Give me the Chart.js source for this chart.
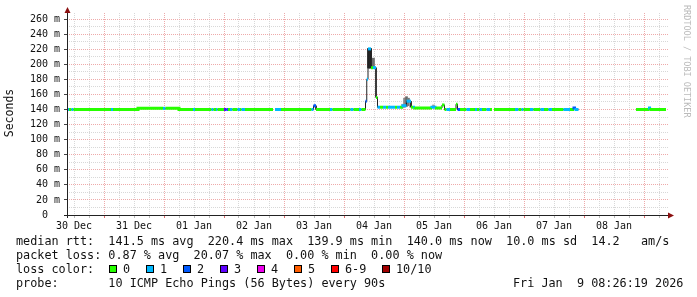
<!DOCTYPE html>
<html>
<head>
<meta charset="utf-8">
<script src="https://cdn.jsdelivr.net/npm/chart.js@4.4.1/dist/chart.umd.min.js"></script>
<style>
html, body { margin: 0; padding: 0; background: #fff; }
canvas { display: block; }
</style>
</head>
<body>
<canvas id="myChart" width="697" height="297"></canvas>
<script>
// hours after 30 Dec 00:00 -- each run keeps its median / loss until the next run starts
const runStart = [9.2, 10.0, 11.0, 11.8, 26.8, 27.6, 37.6, 47.6, 48.6, 54.0,
  59.6, 60.4, 67.0, 67.8, 68.8, 69.4, 72.0, 73.0, 73.6, 74.4,
  75.4, 77.4, 78.4, 79.0, 80.4, 91.6, 92.4, 94.8, 107.0, 107.8,
  108.8, 114.4, 115.4, 122.6, 123.8, 126.0, 127.0, 128.6, 129.1, 129.6,
  130.8, 131.6, 132.8, 133.4, 134.4, 135.6, 136.8, 137.6, 140.4, 141.2,
  142.4, 143.6, 145.0, 146.8, 147.6, 148.4, 155.2, 157.0, 159.2, 160.2,
  161.0, 162.4, 164.8, 165.4, 166.4, 169.0, 170.4, 172.4, 173.2, 174.2,
  175.2, 177.0, 178.4, 179.2, 180.0, 188.4, 189.8, 191.0, 191.8, 194.4,
  195.8, 198.6, 200.0, 201.8, 203.2, 207.8, 210.4, 212.0, 212.8, 213.8,
  236.8, 242.2, 242.8];
const runMedian = [140, 140, 140, 140, 140, 140, 141.5, 141.5, 141.5, 140,
  140, 140, 140, 140, 140, 140, 140, 140, 140, 140,
  140, 140, 140, 140, 140, null, 140, 140, 140, 145,
  140, 140, 140, 140, 140, 140, 140, 151, 180, 220.4,
  195.5, 195.5, 156, 143, 143, 143, 143, 143, 143, 143,
  143, 145, 151, 143, 143, 142, 143, 142, 146, 140,
  140, 140, 147, 140, 140, 140, 140, 140, 140, 140,
  140, 140, 140, null, 140, 140, 140, 140, 140, 140,
  140, 140, 140, 140, 140, 140, 140, 142, 140, null,
  140, 142, 140];
const runLoss = [1, 0, 1, 0, 1, 0, 0, 1, 0, 0,
  1, 0, 1, 0, 1, 0, 3, 2, 0, 1,
  0, 1, 0, 1, 0, 0, 1, 0, 1, 2,
  0, 1, 0, 1, 0, 1, 0, 2, 1, 1,
  0, 1, 0, 1, 0, 1, 0, 1, 0, 1,
  0, 1, 1, 0, 1, 0, 1, 0, 0, 0,
  1, 0, 0, 2, 0, 1, 0, 1, 0, 1,
  0, 1, 0, 0, 0, 1, 0, 1, 0, 1,
  0, 1, 0, 1, 0, 1, 0, 2, 1, 0,
  0, 1, 0];
const dataEnd = 248.8;

// smoke (spread of the 10 pings)
const smokeHours = [129.8, 130.2, 130.6, 131.4, 131.8, 143.4, 144.2, 145.0, 145.8, 146.6, 155.8];
const smokeLow = [195, 195, 195, 197, 197, 142, 143, 144, 145, 143, 142];
const smokeHigh = [221, 221, 221, 208, 208, 147, 155, 157, 155, 149, 146];
const smokeShade = ['#262626', '#262626', '#262626', '#6e6e6e', '#6e6e6e', '#b0b0b0', '#8a8a8a', '#6a6a6a', '#7a7a7a', '#a0a0a0', '#9a9a9a'];

const dayLabels = ['30 Dec', '31 Dec', '01 Jan', '02 Jan', '03 Jan', '04 Jan', '05 Jan', '06 Jan', '07 Jan', '08 Jan'];
const yTickValues = [0, 10, 20, 30, 40, 50, 60, 70, 80, 90, 100, 110, 120, 130, 140, 150, 160, 170, 180, 190, 200, 210, 220, 230, 240, 250, 260];

const lossLabels = ['0', '1', '2', '3', '4', '5', '6-9', '10/10'];
const lossColors = ['#26ff00', '#00b8ff', '#0059ff', '#5e00ff', '#ee00ee', '#ff5e00', '#ff0000', '#a10000'];

const statLines = [
    'median rtt:  141.5 ms avg  220.4 ms max  139.9 ms min  140.0 ms now  10.0 ms sd  14.2   am/s',
    'packet loss: 0.87 % avg  20.07 % max  0.00 % min  0.00 % now'
];
const probeText = 'probe:       10 ICMP Echo Pings (56 Bytes) every 90s';
const stampText = 'Fri Jan  9 08:26:19 2026';

const MONO = '"DejaVu Sans Mono", monospace';
const RED_GRID = '#eeaaaa';
const GREY_GRID = '#d8d8d8';

function colorFor(n) {
    if (n >= 10) return lossColors[7];
    if (n >= 6) return lossColors[6];
    return lossColors[n];
}

// step points: every run gets a start and end point
const pts = [];
const ptLoss = [];
runStart.forEach((t, i) => {
    const end = i + 1 < runStart.length ? runStart[i + 1] : dataEnd;
    pts.push({x: t, y: runMedian[i]}, {x: end, y: runMedian[i]});
    ptLoss.push(runLoss[i], runLoss[i]);
});

const xTicks = [];
for (let h = 12; h <= 246; h += 6) xTicks.push(h);

const smokeData = smokeHours.map((h, i) => ({x: h, y: [smokeLow[i], smokeHigh[i]]}));

const extras = {
    id: 'extras',
    afterDraw(chart) {
        const c = chart.ctx;
        const a = chart.chartArea;
        c.save();
        // axes
        c.strokeStyle = '#222';
        c.lineWidth = 1;
        c.beginPath();
        c.moveTo(a.left + 0.5, a.top);
        c.lineTo(a.left + 0.5, a.bottom + 3);
        c.moveTo(a.left - 3, a.bottom + 0.5);
        c.lineTo(a.right, a.bottom + 0.5);
        c.stroke();
        c.fillStyle = '#8b1010';
        c.beginPath();
        c.moveTo(a.left + 0.5, a.top - 6);
        c.lineTo(a.left - 2.5, a.top);
        c.lineTo(a.left + 3.5, a.top);
        c.closePath();
        c.fill();
        c.beginPath();
        c.moveTo(a.right + 6, a.bottom + 0.5);
        c.lineTo(a.right, a.bottom - 2.5);
        c.lineTo(a.right, a.bottom + 3.5);
        c.closePath();
        c.fill();

        // y title
        c.fillStyle = '#111';
        c.font = '11.5px ' + MONO;
        c.textAlign = 'center';
        c.textBaseline = 'middle';
        c.translate(10, 113);
        c.rotate(-Math.PI / 2);
        c.fillText('Seconds', 0, 0);
        c.restore();

        // watermark
        c.save();
        c.fillStyle = '#bbb';
        c.font = '8.5px ' + MONO;
        c.textAlign = 'left';
        c.textBaseline = 'middle';
        c.translate(686, 5);
        c.rotate(Math.PI / 2);
        c.fillText('RRDTOOL / TOBI OETIKER', 0, 0);
        c.restore();

        // legend block
        c.save();
        c.fillStyle = '#111';
        c.font = '11.8px ' + MONO;
        c.textAlign = 'left';
        c.textBaseline = 'middle';
        c.fillText(statLines[0], 16, 241.5);
        c.fillText(statLines[1], 16, 255.5);
        c.fillText('loss color:', 16, 269.5);
        const boxX = [109, 146, 183, 220, 257, 294, 331, 382];
        lossLabels.forEach((lab, i) => {
            c.fillStyle = lossColors[i];
            c.fillRect(boxX[i], 265, 8, 8);
            c.strokeStyle = '#000';
            c.strokeRect(boxX[i] + 0.5, 265.5, 7, 7);
            c.fillStyle = '#111';
            c.fillText(lab, boxX[i] + 14, 269.5);
        });
        c.fillText(probeText, 16, 283.5);
        c.fillText(stampText, 513, 283.5);
        c.restore();
    }
};

const ctx = document.getElementById('myChart').getContext('2d');
const chart = new Chart(ctx, {
    data: {
        datasets: [{
            type: 'line',
            data: pts,
            borderWidth: 3,
            pointRadius: 0,
            spanGaps: false,
            segment: {
                borderColor: s => {
                    if (s.p0.parsed.x === s.p1.parsed.x) {
                        return Math.abs(s.p1.parsed.y - s.p0.parsed.y) > 3 ? 'transparent' : colorFor(ptLoss[s.p1DataIndex]);
                    }
                    return colorFor(ptLoss[s.p0DataIndex]);
                }
            }
        }, {
            type: 'line',
            data: pts,
            borderWidth: 1,
            borderColor: '#202020',
            pointRadius: 0,
            spanGaps: false
        }, {
            type: 'bar',
            data: smokeData,
            backgroundColor: smokeShade,
            barThickness: 2,
            grouped: false
        }]
    },
    options: {
        responsive: false,
        animation: false,
        events: [],
        layout: {padding: {left: 0, right: 29, top: 13, bottom: 0}},
        plugins: {legend: {display: false}, tooltip: {enabled: false}},
        scales: {
            x: {
                type: 'linear',
                min: 9.2,
                max: 249.6,
                offset: false,
                afterFit: s => { s.height = 82; },
                afterBuildTicks: s => { s.ticks = xTicks.map(v => ({value: v})); },
                ticks: {
                    autoSkip: false,
                    maxRotation: 0,
                    padding: 2,
                    color: '#111',
                    font: {family: MONO, size: 10},
                    callback: v => (v % 24 === 12 ? dayLabels[(v - 12) / 24] : '')
                },
                grid: {
                    offset: false,
                    color: c => (c.tick && c.tick.value % 24 === 0 ? RED_GRID : GREY_GRID),
                    tickColor: c => (c.tick && c.tick.value % 24 === 0 ? '#e07070' : '#bbb'),
                    tickLength: 3
                },
                border: {display: false, dash: [1, 1]}
            },
            y: {
                min: 0,
                max: 268,
                afterFit: s => { s.width = 67; },
                afterBuildTicks: s => { s.ticks = yTickValues.map(v => ({value: v})); },
                ticks: {
                    autoSkip: false,
                    padding: 4,
                    color: '#111',
                    font: {family: MONO, size: 10},
                    callback: v => (v === 0 ? '0  ' : (v % 20 === 0 ? v + ' m' : ''))
                },
                grid: {
                    color: c => (c.tick && c.tick.value % 20 === 0 ? RED_GRID : GREY_GRID),
                    tickColor: c => (c.tick && c.tick.value % 20 === 0 ? '#444' : 'transparent'),
                    tickLength: 3
                },
                border: {display: false, dash: [1, 1]}
            }
        }
    },
    plugins: [extras]
});
</script>
</body>
</html>
